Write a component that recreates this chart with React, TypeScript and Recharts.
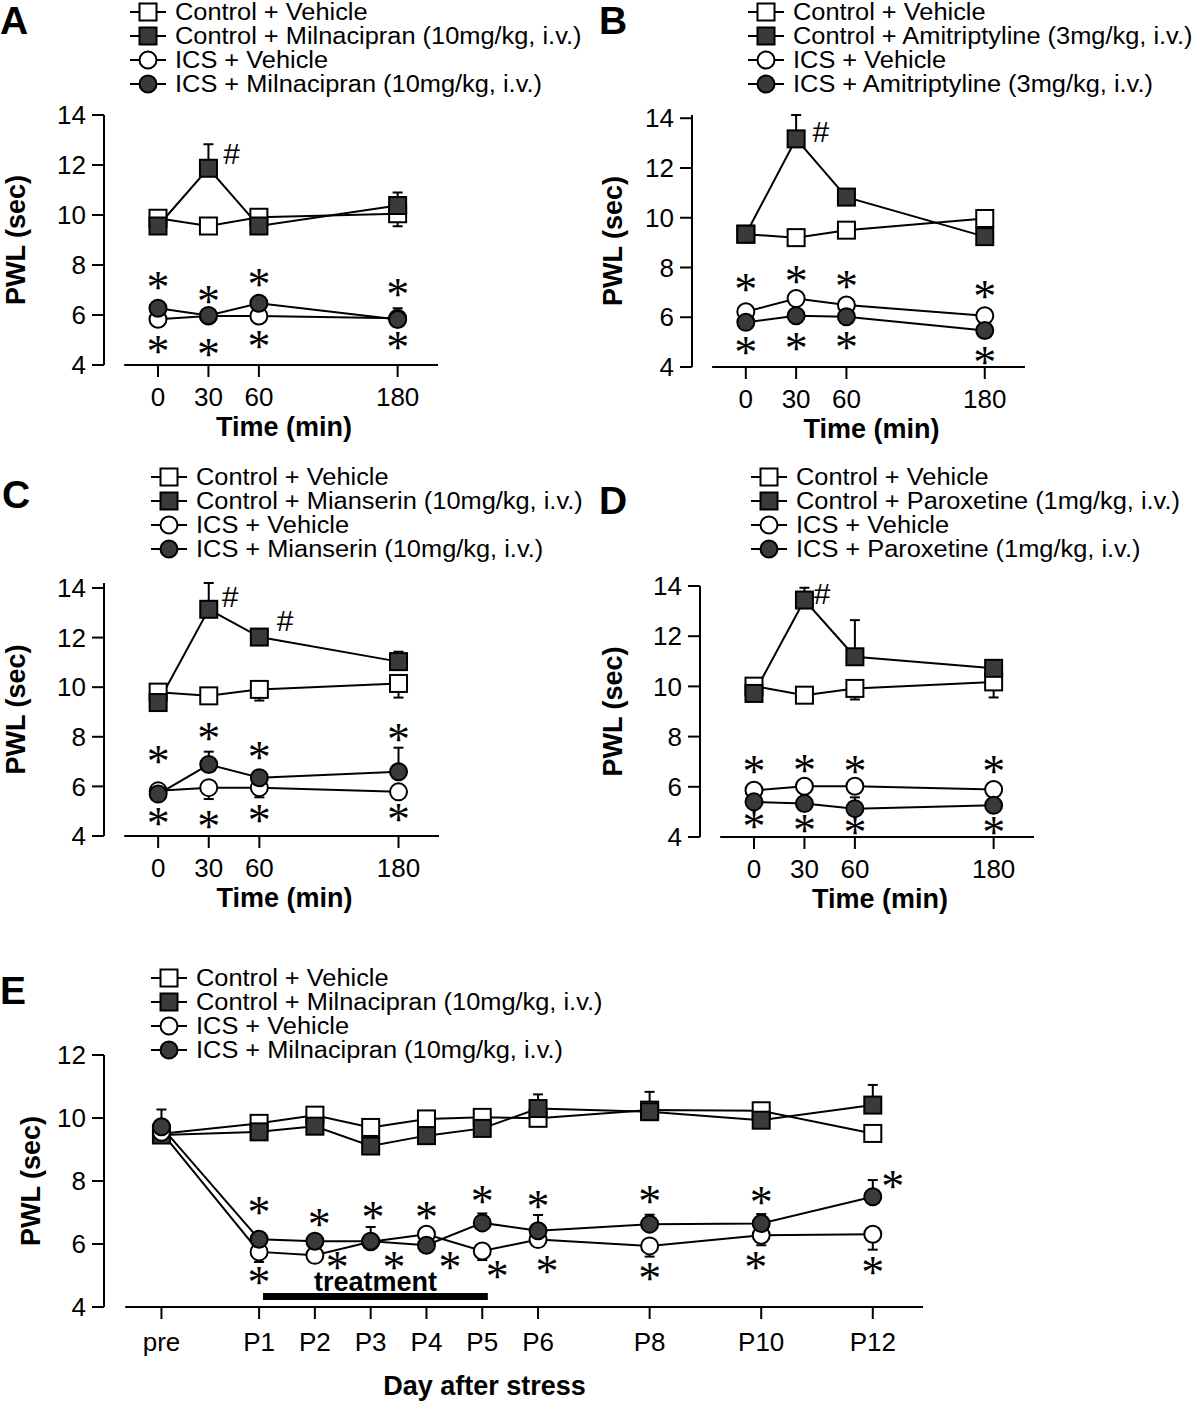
import React from "react";
import { ComposedChart, Line, Scatter, XAxis, YAxis, ErrorBar, ReferenceLine, Label } from "recharts";

const FONT = "'Liberation Sans', Arial, Helvetica, sans-serif";
const STAR_FONT = "'Liberation Serif', 'Times New Roman', serif";
const DARK = "#3a3a3a";

// ---- panels A-D: time course after a single injection ----
const timeLabels = ["0", "30", "60", "180"];
const timeAxisPos = [0, 1, 2, 4.75];
const timeTicksY = [4, 6, 8, 10, 12, 14];

// A: milnacipran
const aCtrlVeh = [9.87, 9.56, 9.91, 10.05];
const aCtrlVehErr = [0, 0, 0, -0.5];
const aCtrlDrug = [9.56, 11.87, 9.56, 10.38];
const aCtrlDrugErr = [0, 0.96, 0, 0.52];
const aIcsVeh = [5.83, 5.96, 5.96, 5.87];
const aIcsVehErr = [-0.22, 0, -0.18, 0];
const aIcsDrug = [6.27, 5.98, 6.47, 5.82];
const aIcsDrugErr = [0, -0.3, 0, 0.45];
const aStarUp = [7.33, 6.8, 7.47, 7.07];
const aStarDown = [4.8, 4.67, 5.0, 4.93];
const aHashPos = [1.46];
const aHashVal = [12.48];

// B: amitriptyline
const bCtrlVeh = [9.34, 9.2, 9.5, 9.97];
const bCtrlVehErr = [0, 0, 0, 0];
const bCtrlDrug = [9.34, 13.17, 10.83, 9.24];
const bCtrlDrugErr = [0, 0.96, 0.27, 0];
const bIcsVeh = [6.22, 6.75, 6.49, 6.06];
const bIcsVehErr = [0, 0, 0, 0];
const bIcsDrug = [5.8, 6.06, 6.02, 5.47];
const bIcsDrugErr = [0, 0, 0, 0];
const bStarUp = [7.35, 7.69, 7.48, 7.08];
const bStarDown = [4.81, 5.0, 5.04, 4.44];
const bHashPos = [1.49];
const bHashVal = [13.47];

// C: mianserin
const cCtrlVeh = [9.8, 9.65, 9.91, 10.15];
const cCtrlVehErr = [0, 0, -0.45, -0.57];
const cCtrlDrug = [9.38, 13.14, 12.02, 11.03];
const cCtrlDrugErr = [0, 1.06, 0, 0.4];
const cIcsVeh = [5.82, 5.95, 5.95, 5.78];
const cIcsVehErr = [0, -0.46, -0.39, 0];
const cIcsDrug = [5.69, 6.88, 6.35, 6.59];
const cIcsDrugErr = [0.33, 0.52, 0, 0.97];
const cStarUp = [7.25, 8.17, 7.4, 8.13];
const cStarDown = [4.73, 4.63, 4.87, 4.9];
const cHashPos = [1.42, 2.51];
const cHashVal = [13.66, 12.67];

// D: paroxetine
const dCtrlVeh = [10.01, 9.65, 9.92, 10.18];
const dCtrlVehErr = [0, 0, -0.44, -0.62];
const dCtrlDrug = [9.72, 13.44, 11.18, 10.72];
const dCtrlDrugErr = [0, 0.49, 1.46, 0];
const dIcsVeh = [5.86, 6.02, 6.02, 5.89];
const dIcsVehErr = [0, 0, 0, 0];
const dIcsDrug = [5.4, 5.33, 5.13, 5.26];
const dIcsDrugErr = [0, 0, 0.45, 0];
const dStarUp = [6.86, 6.88, 6.86, 6.86];
const dStarDown = [4.66, 4.49, 4.4, 4.43];
const dHashPos = [1.35];
const dHashVal = [13.7];

// ---- panel E: repeated milnacipran, days after stress ----
const dayLabels = ["pre", "P1", "P2", "P3", "P4", "P5", "P6", "P8", "P10", "P12"];
const dayAxisPos = [-0.75, 1, 2, 3, 4, 5, 6, 8, 10, 12];
const dayTicksY = [4, 6, 8, 10, 12];
const eCtrlVeh = [9.5, 9.83, 10.09, 9.7, 9.97, 10.02, 9.99, 10.25, 10.23, 9.51];
const eCtrlVehErr = [0, 0, 0, 0, 0, 0, 0, 0, 0.24, 0];
const eCtrlDrug = [9.46, 9.56, 9.74, 9.11, 9.44, 9.67, 10.3, 10.2, 9.93, 10.41];
const eCtrlDrugErr = [0, 0, 0, 0, 0, 0, 0.45, 0.63, 0, 0.64];
const eIcsVeh = [9.55, 5.75, 5.64, 6.07, 6.31, 5.78, 6.14, 5.94, 6.28, 6.31];
const eIcsVehErr = [0, -0.32, 0, 0, 0, -0.29, 0, -0.34, -0.32, -0.49];
const eIcsDrug = [9.72, 6.15, 6.09, 6.09, 5.96, 6.67, 6.42, 6.63, 6.65, 7.5];
const eIcsDrugErr = [0.55, 0, 0, 0.45, 0, 0.3, 0.5, 0.3, 0.3, 0.53];
const eStarUpPos = [1, 2.08, 3.04, 4, 5, 6, 8, 10, 12.36];
const eStarUpVal = [7.18, 6.81, 7.02, 7.02, 7.55, 7.39, 7.55, 7.5, 8.03];
const eStarDownPos = [1, 2.4, 3.42, 4.42, 5.27, 6.16, 8, 9.9, 12];
const eStarDownVal = [4.96, 5.43, 5.43, 5.43, 5.17, 5.33, 5.11, 5.43, 5.27];
const eTreatment = [1.07, 5.1];
const eTreatmentLevel = 4.33;

const legendA = ["Control + Vehicle", "Control + Milnacipran (10mg/kg, i.v.)", "ICS + Vehicle", "ICS + Milnacipran (10mg/kg, i.v.)"];
const legendB = ["Control + Vehicle", "Control + Amitriptyline (3mg/kg, i.v.)", "ICS + Vehicle", "ICS + Amitriptyline (3mg/kg, i.v.)"];
const legendC = ["Control + Vehicle", "Control + Mianserin (10mg/kg, i.v.)", "ICS + Vehicle", "ICS + Mianserin (10mg/kg, i.v.)"];
const legendD = ["Control + Vehicle", "Control + Paroxetine (1mg/kg, i.v.)", "ICS + Vehicle", "ICS + Paroxetine (1mg/kg, i.v.)"];
const legendE = legendA;

const SERIES = [
  { key: "cv", shape: "square", fill: "#fff" },
  { key: "cd", shape: "square", fill: DARK },
  { key: "iv", shape: "circle", fill: "#fff" },
  { key: "id", shape: "circle", fill: DARK },
];

const toErr = (e: number) => (e >= 0 ? [0, e] : [-e, 0]);

function buildRows(pos: number[], s: number[][]) {
  return pos.map((p, i) => ({
    pos: p,
    cv: s[0][i], cvErr: toErr(s[1][i]),
    cd: s[2][i], cdErr: toErr(s[3][i]),
    iv: s[4][i], ivErr: toErr(s[5][i]),
    id: s[6][i], idErr: toErr(s[7][i]),
  }));
}

const notes = (pos: number[], vals: number[], text: string) => pos.map((p, i) => ({ pos: p, val: vals[i], text }));

const square = (fill: string) => (p: any) => {
  if (p.cx == null || p.cy == null) return <g key={p.index} />;
  return <rect key={p.index} x={p.cx - 8.5} y={p.cy - 8.5} width={17} height={17} fill={fill} stroke="#000" strokeWidth={2} />;
};
const circle = (fill: string) => (p: any) => {
  if (p.cx == null || p.cy == null) return <g key={p.index} />;
  return <circle key={p.index} cx={p.cx} cy={p.cy} r={8.5} fill={fill} stroke="#000" strokeWidth={2} />;
};

const noteShape = (p: any) => {
  const { cx, cy, payload } = p;
  if (cx == null || cy == null) return <g />;
  if (payload.text === "*")
    return <text x={cx} y={cy + 21.5} textAnchor="middle" fontFamily={STAR_FONT} fontSize={46} fill="#000">*</text>;
  if (payload.text === "#")
    return <text x={cx} y={cy + 10.5} textAnchor="middle" fontFamily={FONT} fontSize={30} fill="#000">#</text>;
  return <text x={cx} y={cy + 9} textAnchor="middle" fontFamily={FONT} fontWeight="bold" fontSize={27} fill="#000">{payload.text}</text>;
};

type Geo = { left: number; top: number; width: number; height: number; mTop: number; mRight: number; yWidth: number; xHeight: number };

const AXIS = { stroke: "#000", strokeWidth: 2 };
const TICK = { fill: "#000", fontSize: 26, fontFamily: FONT };

function Panel(props: {
  geo: Geo; rows: any[]; marks: any[]; xDomain: number[]; xTicks: number[]; xLabels: string[];
  yDomain: number[]; yTicks: number[]; axisStart: number; xTitle: string; xTitleDx: number; xTitleDy: number;
  yTitleDist: number; tickMargin: number; bar?: number[]; barLevel?: number;
}) {
  const g = props.geo;
  const labelOf = (v: number) => props.xLabels[props.xTicks.indexOf(v)] ?? "";
  return (
    <div style={{ position: "absolute", left: g.left, top: g.top }}>
      <ComposedChart width={g.width} height={g.height} data={props.rows}
        margin={{ top: g.mTop, right: g.mRight, left: 0, bottom: 0 }}>
        <XAxis type="number" dataKey="pos" domain={() => props.xDomain as [number, number]} ticks={props.xTicks}
          tickFormatter={labelOf} interval={0} height={g.xHeight} axisLine={false} tickLine={AXIS}
          tickSize={12} tickMargin={props.tickMargin} tick={TICK}
          label={<Label content={(p: any) => {
            const vb = p.viewBox;
            return <text x={vb.x + vb.width / 2 + props.xTitleDx} y={vb.y + props.xTitleDy + 9.5} textAnchor="middle"
              fontFamily={FONT} fontWeight="bold" fontSize={27} fill="#000">{props.xTitle}</text>;
          }} />} />
        <YAxis type="number" domain={() => props.yDomain as [number, number]} ticks={props.yTicks} interval={0}
          width={g.yWidth} axisLine={AXIS} tickLine={AXIS} tickSize={12} tickMargin={6} tick={TICK}
          label={<Label content={(p: any) => {
            const vb = p.viewBox;
            const x = vb.x + vb.width - props.yTitleDist;
            const y = vb.y + vb.height / 2;
            return <text x={x} y={y} dy={9.5} transform={`rotate(-90 ${x} ${y})`} textAnchor="middle"
              fontFamily={FONT} fontWeight="bold" fontSize={27} fill="#000">PWL (sec)</text>;
          }} />} />
        <ReferenceLine segment={[{ x: props.axisStart, y: props.yDomain[0] }, { x: props.xDomain[1], y: props.yDomain[0] }]}
          stroke="#000" strokeWidth={2} ifOverflow="visible" />
        {props.bar && (
          <ReferenceLine segment={[{ x: props.bar[0], y: props.barLevel }, { x: props.bar[1], y: props.barLevel }]}
            stroke="#000" strokeWidth={7} ifOverflow="visible" />
        )}
        {SERIES.map((s) => (
          <Line key={s.key} dataKey={s.key} type="linear" stroke="#000" strokeWidth={2}
            dot={s.shape === "square" ? square(s.fill) : circle(s.fill)} activeDot={false} isAnimationActive={false}>
            <ErrorBar dataKey={s.key + "Err"} direction="y" width={5} stroke="#000" strokeWidth={2} />
          </Line>
        ))}
        <Scatter data={props.marks} dataKey="val" shape={noteShape} isAnimationActive={false} />
      </ComposedChart>
    </div>
  );
}

function LegendBlock({ left, top, labels }: { left: number; top: number; labels: string[] }) {
  return (
    <div style={{ position: "absolute", left, top, fontFamily: FONT, fontSize: 23.5, lineHeight: "24px", whiteSpace: "nowrap" }}>
      {labels.map((t, i) => (
        <div key={t + i} style={{ display: "flex", alignItems: "center", height: 24 }}>
          <svg width={40} height={24} style={{ marginRight: 7 }}>
            <line x1={2} y1={12} x2={38} y2={12} stroke="#000" strokeWidth={2} />
            {SERIES[i].shape === "square" ? (
              <rect x={11.5} y={3.5} width={17} height={17} fill={SERIES[i].fill} stroke="#000" strokeWidth={2} />
            ) : (
              <circle cx={20} cy={12} r={8.5} fill={SERIES[i].fill} stroke="#000" strokeWidth={2} />
            )}
          </svg>
          <span style={{ display: "inline-block", transform: "scaleX(1.08)", transformOrigin: "left center" }}>{t}</span>
        </div>
      ))}
    </div>
  );
}

function Letter({ left, top, text }: { left: number; top: number; text: string }) {
  return (
    <div style={{ position: "absolute", left, top, fontFamily: FONT, fontWeight: "bold", fontSize: 39, lineHeight: "39px" }}>{text}</div>
  );
}

const timeDomain = [-1.07, 5.55];

export default function App() {
  const rowsA = buildRows(timeAxisPos, [aCtrlVeh, aCtrlVehErr, aCtrlDrug, aCtrlDrugErr, aIcsVeh, aIcsVehErr, aIcsDrug, aIcsDrugErr]);
  const rowsB = buildRows(timeAxisPos, [bCtrlVeh, bCtrlVehErr, bCtrlDrug, bCtrlDrugErr, bIcsVeh, bIcsVehErr, bIcsDrug, bIcsDrugErr]);
  const rowsC = buildRows(timeAxisPos, [cCtrlVeh, cCtrlVehErr, cCtrlDrug, cCtrlDrugErr, cIcsVeh, cIcsVehErr, cIcsDrug, cIcsDrugErr]);
  const rowsD = buildRows(timeAxisPos, [dCtrlVeh, dCtrlVehErr, dCtrlDrug, dCtrlDrugErr, dIcsVeh, dIcsVehErr, dIcsDrug, dIcsDrugErr]);
  const rowsE = buildRows(dayAxisPos, [eCtrlVeh, eCtrlVehErr, eCtrlDrug, eCtrlDrugErr, eIcsVeh, eIcsVehErr, eIcsDrug, eIcsDrugErr]);

  const marksA = [...notes(timeAxisPos, aStarUp, "*"), ...notes(timeAxisPos, aStarDown, "*"), ...notes(aHashPos, aHashVal, "#")];
  const marksB = [...notes(timeAxisPos, bStarUp, "*"), ...notes(timeAxisPos, bStarDown, "*"), ...notes(bHashPos, bHashVal, "#")];
  const marksC = [...notes(timeAxisPos, cStarUp, "*"), ...notes(timeAxisPos, cStarDown, "*"), ...notes(cHashPos, cHashVal, "#")];
  const marksD = [...notes(timeAxisPos, dStarUp, "*"), ...notes(timeAxisPos, dStarDown, "*"), ...notes(dHashPos, dHashVal, "#")];
  const marksE = [
    ...notes(eStarUpPos, eStarUpVal, "*"),
    ...notes(eStarDownPos, eStarDownVal, "*"),
    { pos: (eTreatment[0] + eTreatment[1]) / 2, val: 4.8, text: "treatment" },
  ];

  const common = { xTicks: timeAxisPos, xLabels: timeLabels, xDomain: timeDomain, yDomain: [4, 14], yTicks: timeTicksY,
    axisStart: -0.67, xTitle: "Time (min)", xTitleDx: 13, xTitleDy: 61, tickMargin: 11 };

  return (
    <div style={{ position: "absolute", left: 0, top: 0, width: 1200, height: 1401, background: "#fff", color: "#000", overflow: "hidden" }}>
      <Letter left={0} top={1} text="A" />
      <Letter left={599} top={1} text="B" />
      <Letter left={2} top={475} text="C" />
      <Letter left={599} top={481} text="D" />
      <Letter left={0} top={971} text="E" />

      <LegendBlock left={128} top={0} labels={legendA} />
      <LegendBlock left={746} top={0} labels={legendB} />
      <LegendBlock left={149} top={465} labels={legendC} />
      <LegendBlock left={749} top={465} labels={legendD} />
      <LegendBlock left={149} top={966} labels={legendE} />

      <Panel {...common} geo={{ left: 0, top: 95, width: 460, height: 360, mTop: 20, mRight: 22, yWidth: 104, xHeight: 90 }}
        rows={rowsA} marks={marksA} yTitleDist={89} />
      <Panel {...common} geo={{ left: 590, top: 95, width: 460, height: 362, mTop: 20, mRight: 25, yWidth: 102, xHeight: 90 }}
        rows={rowsB} marks={marksB} yTitleDist={80} />
      <Panel {...common} geo={{ left: 0, top: 565, width: 460, height: 361, mTop: 18, mRight: 21, yWidth: 104, xHeight: 90 }}
        rows={rowsC} marks={marksC} yTitleDist={89} />
      <Panel {...common} geo={{ left: 590, top: 565, width: 460, height: 362, mTop: 21, mRight: 16, yWidth: 110, xHeight: 90 }}
        rows={rowsD} marks={marksD} yTitleDist={88} />
      <Panel geo={{ left: 0, top: 1040, width: 960, height: 361, mTop: 15, mRight: 37, yWidth: 104, xHeight: 94 }}
        rows={rowsE} marks={marksE} xTicks={dayAxisPos} xLabels={dayLabels} xDomain={[-1.78, 12.9]}
        yDomain={[4, 12]} yTicks={dayTicksY} axisStart={-1.4} xTitle="Day after stress" xTitleDx={-29} xTitleDy={78}
        yTitleDist={74} tickMargin={14} bar={eTreatment} barLevel={eTreatmentLevel} />
    </div>
  );
}
